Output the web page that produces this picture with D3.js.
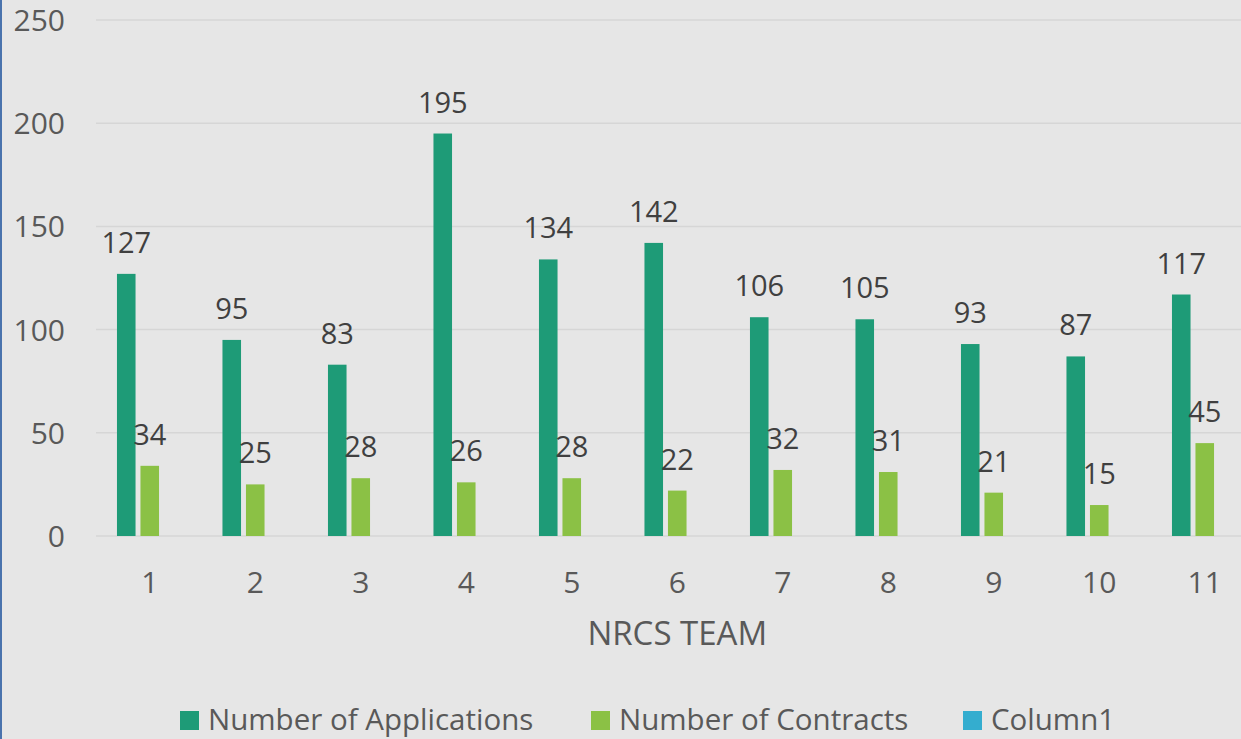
<!DOCTYPE html>
<html>
<head>
<meta charset="utf-8">
<script src="https://cdn.jsdelivr.net/npm/d3@7"></script>
<style>
  body { margin: 0; background: #e6e6e6; }
  svg { display: block; font-family: "Open Sans", Lato, sans-serif; }
</style>
</head>
<body>
<script>
const width = 1241;
const height = 739;

const teams = ["1", "2", "3", "4", "5", "6", "7", "8", "9", "10", "11"];
const applications = [127, 95, 83, 195, 134, 142, 106, 105, 93, 87, 117];
const contracts = [34, 25, 28, 26, 28, 22, 32, 31, 21, 15, 45];
const column1 = [];
const seriesNames = ["Number of Applications", "Number of Contracts", "Column1"];
const seriesColors = ["#1e9b77", "#8bc145", "#34adcf"];
const yTicks = [0, 50, 100, 150, 200, 250];

const series = [applications, contracts, column1];

const plotLeft = 97, plotRight = 1257.5, plotTop = 20, plotBottom = 536;

const svg = d3.select("body").append("svg")
	.attr("width", width)
	.attr("height", height);

svg.append("rect")
	.attr("width", width).attr("height", height)
	.attr("fill", "#e6e6e6");

// blue border on the left edge
svg.append("rect")
	.attr("x", 0).attr("y", 0).attr("width", 2).attr("height", height)
	.attr("fill", "#4a73ad");

const x = d3.scaleBand()
	.domain(teams)
	.range([plotLeft, plotRight])
	.padding(0);

const xSeries = d3.scaleBand()
	.domain(seriesNames)
	.range([-35.25, 35.25])
	.paddingInner(0.21)
	.paddingOuter(0.105);

const y = d3.scaleLinear()
	.domain([0, 250])
	.range([plotBottom, plotTop]);

// gridlines
svg.append("g")
	.selectAll("line")
	.data(yTicks)
	.enter()
	.append("line")
	.attr("x1", plotLeft - 1)
	.attr("x2", width)
	.attr("y1", d => y(d))
	.attr("y2", d => y(d))
	.attr("stroke", "#d6d6d6")
	.attr("stroke-width", 1.5);

// y tick labels
svg.append("g")
	.selectAll("text")
	.data(yTicks)
	.enter()
	.append("text")
	.attr("x", 65)
	.attr("y", d => y(d) + 11)
	.attr("text-anchor", "end")
	.attr("font-size", 30)
	.attr("fill", "#595959")
	.text(d => d);

// bars
series.forEach((vals, si) => {
	const g = svg.append("g");
	g.selectAll("rect")
		.data(vals)
		.enter()
		.append("rect")
		.attr("x", (d, i) => x(teams[i]) + x.bandwidth() / 2 + xSeries(seriesNames[si]))
		.attr("y", d => y(d))
		.attr("width", xSeries.bandwidth())
		.attr("height", d => y(0) - y(d))
		.attr("fill", seriesColors[si]);

	g.selectAll("text")
		.data(vals)
		.enter()
		.append("text")
		.attr("x", (d, i) => x(teams[i]) + x.bandwidth() / 2 + xSeries(seriesNames[si]) + xSeries.bandwidth() / 2)
		.attr("y", d => y(d) - 21)
		.attr("text-anchor", "middle")
		.attr("font-size", 29)
		.attr("fill", "#404040")
		.text(d => d);
});

// x tick labels
svg.append("g")
	.selectAll("text")
	.data(teams)
	.enter()
	.append("text")
	.attr("x", d => x(d) + x.bandwidth() / 2)
	.attr("y", 593)
	.attr("text-anchor", "middle")
	.attr("font-size", 30)
	.attr("fill", "#595959")
	.text(d => d);

// axis title
svg.append("text")
	.attr("x", (plotLeft + plotRight) / 2)
	.attr("y", 645)
	.attr("text-anchor", "middle")
	.attr("font-size", 33)
	.attr("fill", "#595959")
	.text("NRCS TEAM");

// legend
const legendX = [180, 591, 963];
const legend = svg.append("g")
	.selectAll("g")
	.data(seriesNames)
	.enter()
	.append("g")
	.attr("transform", (d, i) => `translate(${legendX[i]}, 711)`);

legend.append("rect")
	.attr("width", 19)
	.attr("height", 19)
	.attr("fill", (d, i) => seriesColors[i]);

legend.append("text")
	.attr("x", 28)
	.attr("y", 18.5)
	.attr("font-size", 29.5)
	.attr("fill", "#595959")
	.text(d => d);
</script>
</body>
</html>
